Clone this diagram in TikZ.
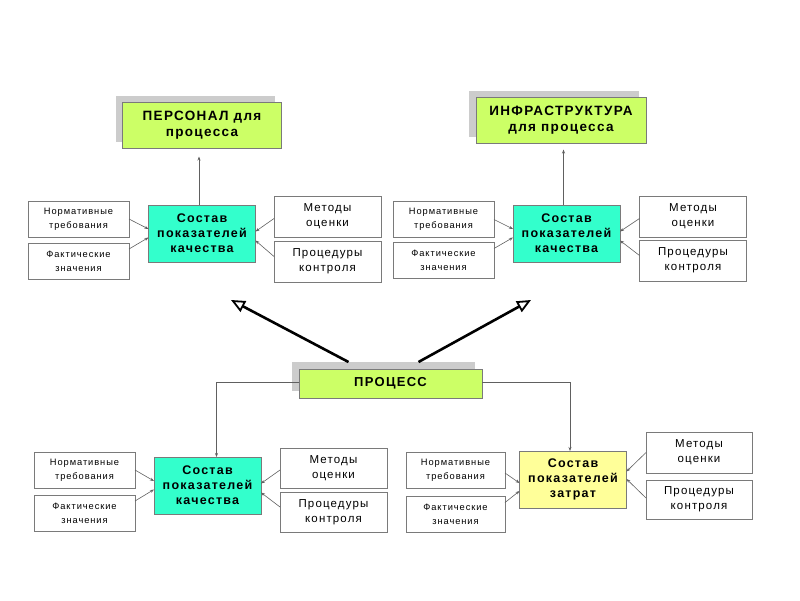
\documentclass[tikz,border=0pt]{standalone}
\usepackage{fontspec}
\setmainfont{Liberation Sans}[LetterSpace=10]
\usetikzlibrary{arrows.meta,positioning,shadows}
\definecolor{salat}{HTML}{CCFF66}
\definecolor{biruza}{HTML}{33FFCC}
\definecolor{limon}{HTML}{FFFF99}
\definecolor{rama}{HTML}{7A7A7A}
\definecolor{strelka}{HTML}{606060}
\tikzset{
    gblock/.style = {
        draw=rama, fill=salat, rectangle, align=center,
        outer sep=0,
        inner sep=0,
        minimum height=46pt,
        font=\bfseries\fontsize{13.5}{16}\selectfont,
        drop shadow={shadow xshift=-7pt, shadow yshift=7pt, fill=gray, opacity=.4}
    },
    cblock/.style = {
        draw=rama, fill=biruza, rectangle, align=center,
        outer sep=0,
        inner sep=0,
        minimum width=107pt,
        minimum height=57pt,
        font=\bfseries\fontsize{12.5}{15}\selectfont
    },
    nblock/.style = {
        draw=rama, fill=white, rectangle, align=center,
        outer sep=0,
        inner sep=0,
        minimum width=101pt,
        minimum height=36pt,
        font=\fontsize{9.3}{14}\selectfont
    },
    mblock/.style = {
        draw=rama, fill=white, rectangle, align=center,
        outer sep=0,
        inner sep=0,
        minimum width=107pt,
        minimum height=41pt,
        font=\fontsize{11.5}{15}\selectfont
    },
    arr/.style = {draw=strelka, line width=0.6pt, -{Stealth[length=4pt,width=3pt]}},
    bigarr/.style = {line width=2.6pt, -{Triangle[open,length=14pt,width=12pt,line width=1.8pt]}}
}

\begin{document}
\begin{tikzpicture}[x=1pt,y=-1pt]
\useasboundingbox (0,0) rectangle (800,600);

% personal
\node[gblock, minimum width=159pt](PersA) at (202,125.5){ПЕРСОНАЛ для\\процесса};
\node[cblock](SostavA) at (202,233.5){Состав\\показателей\\качества};
\node[nblock](NormA) at (78.5,219){Нормативные\\требования};
\node[nblock, below=6pt of NormA](FaktA){Фактические\\значения};
\node[mblock](MetA) at (327.5,216.5){Методы\\оценки};
\node[mblock, below=4pt of MetA](ProcA){Процедуры\\контроля};

% infrastruktura
\node[gblock, minimum width=170pt](InfraB) at (561,120.5){ИНФРАСТРУКТУРА\\для процесса};
\node[cblock](SostavB) at (566.5,233.5){Состав\\показателей\\качества};
\node[nblock](NormB) at (443.5,219.5){Нормативные\\требования};
\node[nblock, below=5pt of NormB](FaktB){Фактические\\значения};
\node[mblock](MetB) at (693,216.5){Методы\\оценки};
\node[mblock, below=3pt of MetB](ProcB){Процедуры\\контроля};

% process
\node[gblock, minimum width=183pt, minimum height=29pt, font=\bfseries\fontsize{13}{16}\selectfont](Process) at (390.5,383.5){ПРОЦЕСС};
\coordinate (tipL) at (231,300);
\coordinate (tipR) at (531,300);

\node[cblock](SostavC) at (207.5,485.5){Состав\\показателей\\качества};
\node[nblock](NormC) at (84.5,470){Нормативные\\требования};
\node[nblock, below=7pt of NormC](FaktC){Фактические\\значения};
\node[mblock, minimum height=40pt](MetC) at (333.5,468){Методы\\оценки};
\node[mblock, minimum height=40pt, below=4pt of MetC](ProcC){Процедуры\\контроля};

\node[cblock, fill=limon](SostavD) at (573,479.5){Состав\\показателей\\затрат};
\node[nblock, minimum width=99pt](NormD) at (455.5,470.5){Нормативные\\требования};
\node[nblock, minimum width=99pt, below=8pt of NormD](FaktD){Фактические\\значения};
\node[mblock, minimum width=106pt](MetD) at (699,452.5){Методы\\оценки};
\node[mblock, minimum width=106pt, minimum height=39pt, below=7pt of MetD](ProcD){Процедуры\\контроля};

\draw[arr, shorten >=8pt] ([xshift=-3pt]SostavA.north) -- ([xshift=-3pt]SostavA.north |- PersA.south);
\draw[arr, shorten >=6pt] ([xshift=-3pt]SostavB.north) -- ([xshift=-3pt]SostavB.north |- InfraB.south);

\draw[bigarr] ([xshift=-42pt,yshift=7pt]Process.north) -- (tipL);
\draw[bigarr] ([xshift=28pt,yshift=7pt]Process.north) -- (tipR);

\draw[arr] ([yshift=1.5pt]Process.west) -| ([xshift=9pt]SostavC.north);
\draw[arr] ([yshift=1.5pt]Process.east) -| ([xshift=-3pt]SostavD.north);

\foreach \g in {A,B,C}{
  \draw[arr] (Norm\g.east) -- ([yshift=4.5pt]Sostav\g.west);
  \draw[arr] ([yshift=12pt]Fakt\g.east) -- ([yshift=-4pt]Sostav\g.west);
  \draw[arr] ([yshift=-2pt]Met\g.west) -- ([yshift=2pt]Sostav\g.east);
  \draw[arr] ([yshift=5pt]Proc\g.west) -- ([yshift=-7pt]Sostav\g.east);
}
\draw[arr] ([yshift=-2.5pt]NormD.east) -- ([yshift=-3.5pt]SostavD.west);
\draw[arr] ([yshift=12pt]FaktD.east) -- ([yshift=-11.5pt]SostavD.west);
\draw[arr] (MetD.west) -- ([yshift=8pt]SostavD.east);
\draw[arr] ([yshift=1.5pt]ProcD.west) -- ([yshift=0.5pt]SostavD.east);

\end{tikzpicture}
\end{document}
